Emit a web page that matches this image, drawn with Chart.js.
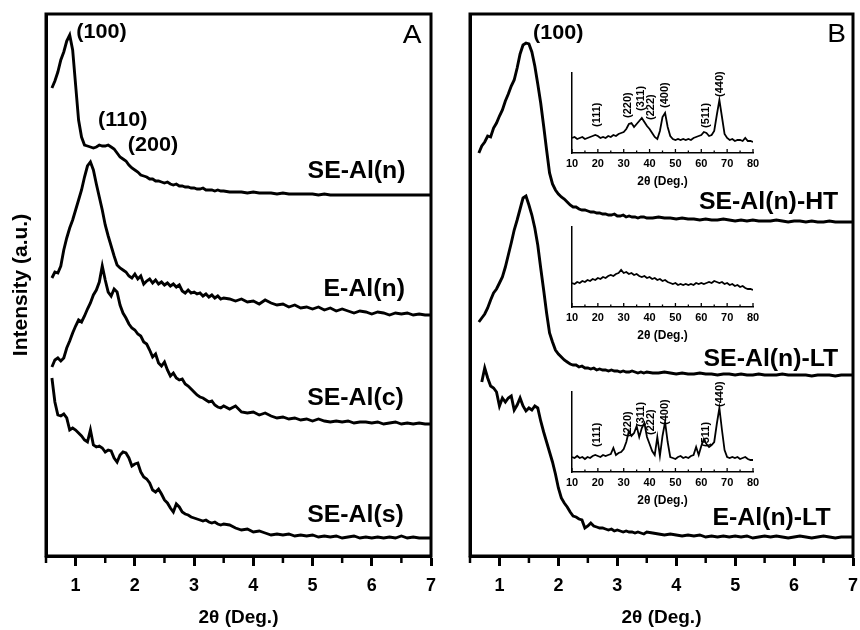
<!DOCTYPE html>
<html>
<head>
<meta charset="utf-8">
<script src="https://cdn.jsdelivr.net/npm/chart.js"></script>
<style>
  body { margin: 0; background: #fff; }
  #wrap { position: relative; width: 860px; height: 630px; overflow: hidden; }
  #wrap canvas { position: absolute; }
</style>
</head>
<body>
<div id="wrap">
  <canvas id="chartA" width="440" height="630" style="left:0;top:0"></canvas>
  <canvas id="chartB" width="420" height="630" style="left:440px;top:0"></canvas>
  <canvas id="inset1" width="240" height="132" style="left:542px;top:63px"></canvas>
  <canvas id="inset2" width="240" height="132" style="left:542px;top:217px"></canvas>
  <canvas id="inset3" width="240" height="132" style="left:542px;top:382px"></canvas>
</div>
<script>
// 2-theta grid of the low angle scans, panel A
const xA = [
  0.60, 0.65, 0.70, 0.75, 0.80, 0.85, 0.90, 0.95, 1.00, 1.05,
  1.10, 1.15, 1.20, 1.25, 1.30, 1.35, 1.40, 1.45, 1.50, 1.55,
  1.60, 1.65, 1.70, 1.75, 1.80, 1.85, 1.90, 1.95, 2.00, 2.05,
  2.10, 2.15, 2.20, 2.25, 2.30, 2.35, 2.40, 2.45, 2.50, 2.55,
  2.60, 2.65, 2.70, 2.75, 2.80, 2.85, 2.90, 2.95, 3.00, 3.05,
  3.10, 3.15, 3.20, 3.25, 3.30, 3.35, 3.40, 3.45, 3.50,
  3.6, 3.7, 3.8, 3.9, 4.0, 4.1, 4.2, 4.3, 4.4, 4.5,
  4.6, 4.7, 4.8, 4.9, 5.0, 5.1, 5.2, 5.3, 5.4, 5.5,
  5.6, 5.7, 5.8, 5.9, 6.0, 6.1, 6.2, 6.3, 6.4, 6.5,
  6.6, 6.7, 6.8, 6.9, 7.0
];

// intensities (a.u., stacked with offsets as in the figure)
const seAlN = [
  468, 475, 484, 496, 504, 515, 521, 506, 471, 436,
  419, 411, 410, 409, 408, 409, 411, 410, 410, 411,
  409, 407, 403, 399, 397, 395, 391, 388, 386, 384,
  381, 380, 379, 377, 377, 375, 375, 374, 373, 374,
  372, 371, 372, 370, 370, 369, 369, 368, 368, 367,
  367, 368, 366, 366, 366, 365, 366, 365, 365,
  364, 364, 364, 363, 364, 363, 363, 363, 362, 363,
  362, 362, 362, 362, 362, 361, 362, 361, 361, 361,
  361, 361, 361, 361, 361, 361, 361, 361, 361, 361,
  361, 361, 361, 361, 361
];
const eAlN = [
  278, 284, 283, 290, 306, 318, 328, 336, 346, 356,
  366, 379, 390, 394, 386, 372, 359, 346, 331, 320,
  310, 300, 291, 288, 286, 284, 280, 278, 282, 277,
  280, 272, 275, 277, 273, 276, 272, 274, 271, 273,
  270, 272, 269, 271, 265, 263, 266, 263, 264, 262,
  263, 260, 262, 259, 261, 258, 260, 257, 258,
  257, 255, 257, 254, 255, 252, 256, 253, 251, 252,
  249, 251, 248, 249, 247, 249, 246, 248, 245, 247,
  245, 243, 245, 244, 242, 244, 243, 241, 243, 242,
  243, 241, 242, 241, 241
];
const seAlC = [
  189, 196, 198, 195, 198, 208, 215, 223, 230, 236,
  234, 240, 247, 253, 261, 266, 274, 290, 276, 264,
  260, 267, 264, 251, 243, 238, 232, 228, 226, 222,
  220, 214, 212, 206, 199, 202, 193, 190, 194, 186,
  180, 183, 178, 176, 177, 172, 170, 167, 164, 161,
  159, 158, 156, 154, 155, 151, 149, 148, 150,
  147, 150, 144, 143, 144, 141, 143, 140, 138, 139,
  137, 138, 136, 137, 135, 137, 135, 134, 135, 134,
  135, 133, 134, 134, 133, 134, 132, 133, 134, 132,
  133, 132, 133, 132, 132
];
const seAlS = [
  178, 154, 141, 140, 142, 138, 126, 128, 126, 123,
  120, 116, 114, 126, 111, 109, 110, 108, 104, 106,
  105, 98, 94, 101, 104, 103, 98, 90, 92, 93,
  84, 79, 77, 73, 66, 64, 67, 62, 56, 53,
  48, 44, 52, 49, 44, 42, 41, 39, 38, 37,
  36, 35, 36, 34, 33, 34, 32, 31, 32,
  31, 28, 26, 27, 24, 25, 23, 21, 22, 21,
  22, 20, 21, 20, 21, 19, 20, 19, 20, 18,
  19, 20, 18, 19, 18, 19, 18, 19, 18, 20,
  18, 19, 18, 18, 18
];

// panel B grid
const xB = [
  0.65, 0.70, 0.75, 0.80, 0.85, 0.90, 0.95, 1.00, 1.05, 1.10,
  1.15, 1.20, 1.25, 1.30, 1.35, 1.40, 1.45, 1.50, 1.55, 1.60,
  1.65, 1.70, 1.75, 1.80, 1.85, 1.90, 1.95, 2.00, 2.05, 2.10,
  2.15, 2.20, 2.25, 2.30, 2.35, 2.40, 2.45, 2.50, 2.55, 2.60,
  2.65, 2.70, 2.75, 2.80, 2.85, 2.90, 2.95, 3.00, 3.05, 3.10,
  3.15, 3.20, 3.25, 3.30, 3.35, 3.40, 3.45, 3.50,
  3.6, 3.7, 3.8, 3.9, 4.0, 4.1, 4.2, 4.3, 4.4, 4.5,
  4.6, 4.7, 4.8, 4.9, 5.0, 5.1, 5.2, 5.3, 5.4, 5.5,
  5.6, 5.7, 5.8, 5.9, 6.0, 6.1, 6.2, 6.3, 6.4, 6.5,
  6.6, 6.7, 6.8, 6.9, 7.0
];
const seAlNHT = [
  403, 410, 414, 420, 419, 428, 433, 440, 446, 455,
  462, 470, 476, 488, 502, 511, 513, 512, 504, 490,
  472, 453, 430, 406, 383, 372, 366, 362, 359, 357,
  354, 351, 349, 349, 347, 346, 346, 345, 344, 344,
  343, 343, 342, 342, 341, 341, 342, 340, 340, 341,
  339, 340, 339, 339, 338, 339, 339, 338,
  338, 339, 338, 338, 337, 338, 337, 337, 336, 337,
  336, 336, 337, 336, 335, 336, 335, 336, 335, 335,
  335, 336, 335, 334, 335, 335, 334, 335, 334, 334,
  335, 334, 334, 334, 334
];
const seAlNLT = [
  234, 238, 242, 248, 256, 263, 267, 273, 279, 289,
  301, 313, 326, 336, 347, 358, 360, 351, 341, 328,
  311, 288, 266, 243, 223, 214, 206, 202, 199, 196,
  194, 192, 191, 191, 189, 190, 188, 188, 187, 188,
  186, 187, 186, 186, 185, 186, 185, 185, 184, 185,
  184, 184, 185, 184, 183, 184, 183, 184,
  183, 183, 184, 183, 182, 183, 182, 182, 183, 182,
  182, 181, 182, 182, 181, 182, 181, 181, 182, 181,
  181, 181, 182, 181, 181, 181, 181, 180, 181, 181,
  181, 180, 181, 181, 181
];
const eAlNLT = [
  null, 174, 188, 178, 170, 168, 164, 150, 158, 154,
  158, 160, 146, 151, 158, 150, 145, 148, 146, 150,
  148, 135, 124, 114, 104, 94, 82, 68, 58, 53,
  49, 44, 40, 39, 37, 36, 28, 30, 33, 30,
  29, 28, 28, 27, 26, 27, 25, 26, 25, 24,
  25, 24, 24, 23, 24, 23, 22, 24,
  23, 22, 21, 22, 21, 20, 21, 20, 21, 19,
  20, 19, 20, 19, 20, 19, 20, 18, 19, 20,
  19, 20, 19, 18, 19, 20, 19, 18, 19, 20,
  19, 18, 19, 19, 19
];

// wide angle insets, 2-theta 10..80
const xInset = [
  10, 11, 12, 13, 14, 15, 16, 17, 18, 19,
  20, 21, 22, 23, 24, 25, 26, 27, 28, 29,
  30, 31, 32, 33, 34, 35, 36, 37, 38, 39,
  40, 41, 42, 43, 44, 45, 46, 47, 48, 49,
  50, 51, 52, 53, 54, 55, 56, 57, 58, 59,
  60, 61, 62, 63, 64, 65, 66, 67, 68, 69,
  70, 71, 72, 73, 74, 75, 76, 77, 78, 79,
  80
];
const insetHT = [
  15, 16, 14, 15, 16, 14, 15, 16, 17, 18,
  17, 15, 16, 15, 17, 16, 18, 17, 19, 20,
  21, 24, 29, 30, 26, 29, 32, 35, 31, 27,
  24, 20, 16, 14, 22, 36, 40, 26, 17, 14,
  13, 14, 13, 14, 13, 14, 13, 15, 16, 17,
  18, 21, 20, 17, 18, 22, 38, 53, 36, 19,
  15, 13, 14, 12, 13, 13, 12, 15, 12, 12,
  11
];
const insetLT = [
  24, 23, 25, 24, 26, 25, 27, 26, 28, 27,
  29, 28, 30, 29, 31, 32, 31, 33, 34, 37,
  34, 35, 33, 34, 32, 33, 31, 30, 31, 29,
  30, 28, 29, 27, 28, 26, 27, 25, 24, 23,
  24, 22, 23, 22, 23, 22, 23, 22, 24, 23,
  24, 23, 24, 25, 24, 26, 25, 24, 25, 23,
  24, 22, 23, 21, 22, 20, 21, 19, 18, 18,
  17
];
const insetELT = [
  15, 14, 16, 14, 15, 13, 15, 14, 16, 17,
  16, 15, 17, 16, 17, 18, 24, 17, 19, 20,
  23, 30, 41, 36, 39, 46, 35, 44, 49, 35,
  28, 21, 17, 35, 16, 36, 50, 30, 15, 14,
  13, 15, 16, 14, 15, 14, 16, 17, 25, 17,
  26, 33, 28, 25, 27, 30, 48, 64, 42, 22,
  15, 14, 15, 14, 15, 13, 14, 15, 13, 12,
  12
];

// tick positions and label texts
const xTicksMain = [0.5, 1, 1.5, 2, 2.5, 3, 3.5, 4, 4.5, 5, 5.5, 6, 6.5, 7];
const xTicksInset = [10, 15, 20, 25, 30, 35, 40, 45, 50, 55, 60, 65, 70, 75, 80];
const namesA = ['SE-Al(n)', 'E-Al(n)', 'SE-Al(c)', 'SE-Al(s)'];
const namesB = ['SE-Al(n)-HT', 'SE-Al(n)-LT', 'E-Al(n)-LT'];
const hklMeso = ['(100)', '(110)', '(200)'];
const hklSpinel = ['(111)', '(220)', '(311)', '(222)', '(400)', '(511)', '(440)'];
const hklAngle = [19.5, 31.5, 36.6, 40.4, 45.8, 61.8, 67.4];

const FONT = "'Liberation Sans', Arial, Helvetica, sans-serif";
const NAME_FONT = 'bold 23px ' + FONT;
const HKL_FONT = 'bold 20px ' + FONT;
const PANEL_FONT = '26px ' + FONT;

function points(xs, ys) {
    return xs.map((x, i) => ({ x: x, y: ys[i] }));
}

function curve(xs, ys, width) {
    return {
        data: points(xs, ys),
        borderColor: '#000',
        borderWidth: width,
        pointRadius: 0,
        tension: 0,
        fill: false
    };
}

// free text placed in data units through the chart scales
function notes(items) {
    return {
        id: 'notes',
        afterDatasetsDraw(chart) {
            const ctx = chart.ctx;
            const x = chart.scales.x;
            const y = chart.scales.y;
            ctx.save();
            ctx.fillStyle = '#000';
            ctx.textBaseline = 'middle';
            items.forEach(n => {
                ctx.save();
                ctx.font = n.font;
                ctx.textAlign = n.align || 'left';
                ctx.translate(x.getPixelForValue(n.x), y.getPixelForValue(n.y));
                if (n.rotate) ctx.rotate(-Math.PI / 2);
                ctx.scale(n.stretch || 1, 1);
                ctx.fillText(n.text, 0, 0);
                ctx.restore();
            });
            ctx.restore();
        }
    };
}

// top/right frame and short minor ticks of the main panels
const frame = {
    id: 'frame',
    afterDraw(chart) {
        const { ctx, chartArea: a, scales: { x } } = chart;
        ctx.save();
        ctx.strokeStyle = '#000';
        ctx.lineWidth = 2.5;
        x.ticks.forEach(t => {
            if (Number.isInteger(t.value)) return;
            const px = x.getPixelForValue(t.value);
            ctx.beginPath();
            ctx.moveTo(px, a.bottom);
            ctx.lineTo(px, a.bottom + 7);
            ctx.stroke();
        });
        ctx.lineWidth = 3;
        ctx.strokeRect(a.left, a.top, a.right - a.left, a.bottom - a.top);
        ctx.restore();
    }
};

// inward ticks of the insets
const innerTicks = {
    id: 'innerTicks',
    afterDraw(chart) {
        const { ctx, chartArea: a, scales: { x } } = chart;
        ctx.save();
        ctx.strokeStyle = '#000';
        ctx.lineWidth = 1.3;
        x.ticks.forEach(t => {
            const px = x.getPixelForValue(t.value);
            const len = t.value % 10 === 0 ? 4 : 2.5;
            ctx.beginPath();
            ctx.moveTo(px, a.bottom);
            ctx.lineTo(px, a.bottom - len);
            ctx.stroke();
        });
        ctx.restore();
    }
};

function mainOptions(yWidth, padRight, yTitle) {
    return {
        responsive: false,
        animation: false,
        devicePixelRatio: 1,
        events: [],
        layout: { padding: { top: 14, right: padRight, left: 0, bottom: 0 } },
        plugins: { legend: { display: false }, tooltip: { enabled: false } },
        scales: {
            x: {
                type: 'linear',
                min: 0.5,
                max: 7,
                afterBuildTicks: s => { s.ticks = xTicksMain.map(v => ({ value: v })); },
                afterFit: s => { s.height = 74; },
                ticks: {
                    autoSkip: false,
                    maxRotation: 0,
                    padding: 0,
                    color: '#000',
                    font: { family: FONT, size: 18, weight: 'bold', lineHeight: 2.2 },
                    callback: v => Number.isInteger(v) ? String(v) : ''
                },
                grid: {
                    drawOnChartArea: false,
                    tickLength: 10,
                    tickWidth: 3,
                    tickColor: c => (c.tick && Number.isInteger(c.tick.value)) ? '#000' : 'rgba(0,0,0,0)'
                },
                border: { color: '#000', width: 3 },
                title: {
                    display: true,
                    text: '2θ (Deg.)',
                    color: '#000',
                    padding: { top: 0, bottom: 1 },
                    font: { family: FONT, size: 19, weight: 'bold' }
                }
            },
            y: {
                min: 0,
                max: 542,
                afterFit: s => { s.width = yWidth; },
                ticks: { display: false },
                grid: { display: false, drawTicks: false },
                border: { color: '#000', width: 3 },
                title: {
                    display: !!yTitle,
                    text: yTitle || '',
                    color: '#000',
                    padding: { top: 9, bottom: 0 },
                    font: { family: FONT, size: 21, weight: 'bold' }
                }
            }
        }
    };
}

function insetOptions() {
    return {
        responsive: false,
        animation: false,
        devicePixelRatio: 1,
        events: [],
        layout: { padding: { top: 10, right: 29, left: 0, bottom: 0 } },
        plugins: { legend: { display: false }, tooltip: { enabled: false } },
        scales: {
            x: {
                type: 'linear',
                min: 10,
                max: 80,
                afterBuildTicks: s => { s.ticks = xTicksInset.map(v => ({ value: v })); },
                afterFit: s => { s.height = 42; },
                ticks: {
                    autoSkip: false,
                    maxRotation: 0,
                    padding: 4,
                    color: '#000',
                    font: { family: FONT, size: 11, weight: 'bold' },
                    callback: v => v % 10 === 0 ? String(v) : ''
                },
                grid: { display: false, drawTicks: false },
                border: { color: '#000', width: 1.5 },
                title: {
                    display: true,
                    text: '2θ (Deg.)',
                    color: '#000',
                    padding: { top: 0, bottom: 6 },
                    font: { family: FONT, size: 12, weight: 'bold' }
                }
            },
            y: {
                min: 0,
                max: 80,
                afterFit: s => { s.width = 30; },
                ticks: { display: false },
                grid: { display: false, drawTicks: false },
                border: { color: '#000', width: 1.5 }
            }
        }
    };
}

function spinelNotes(heights) {
    return hklSpinel.map((t, i) => ({
        text: t, x: hklAngle[i], y: heights[i], font: 'bold 11px ' + FONT, rotate: true
    }));
}

new Chart(document.getElementById('chartA'), {
    type: 'line',
    data: {
        datasets: [
            curve(xA, seAlN, 2.9),
            curve(xA, eAlN, 2.9),
            curve(xA, seAlC, 2.9),
            curve(xA, seAlS, 2.9)
        ]
    },
    options: mainOptions(46, 9, 'Intensity (a.u.)'),
    plugins: [frame, notes([
        { text: hklMeso[0], x: 1.01, y: 524, font: HKL_FONT, stretch: 1.08 },
        { text: hklMeso[1], x: 1.38, y: 436, font: HKL_FONT, stretch: 1.08 },
        { text: hklMeso[2], x: 1.88, y: 411, font: HKL_FONT, stretch: 1.08 },
        { text: 'A', x: 6.84, y: 520, font: PANEL_FONT, align: 'right', stretch: 1.08 },
        { text: namesA[0], x: 6.57, y: 384, font: NAME_FONT, align: 'right', stretch: 1.08 },
        { text: namesA[1], x: 6.56, y: 266, font: NAME_FONT, align: 'right', stretch: 1.08 },
        { text: namesA[2], x: 6.54, y: 157, font: NAME_FONT, align: 'right', stretch: 1.08 },
        { text: namesA[3], x: 6.54, y: 40, font: NAME_FONT, align: 'right', stretch: 1.08 }
    ])]
});

new Chart(document.getElementById('chartB'), {
    type: 'line',
    data: {
        datasets: [
            curve(xB, seAlNHT, 2.9),
            curve(xB, seAlNLT, 2.9),
            curve(xB, eAlNLT, 2.9)
        ]
    },
    options: mainOptions(30, 7, ''),
    plugins: [frame, notes([
        { text: hklMeso[0], x: 1.57, y: 523, font: HKL_FONT, stretch: 1.08 },
        { text: 'B', x: 6.88, y: 521, font: PANEL_FONT, align: 'right', stretch: 1.08 },
        { text: namesB[0], x: 6.75, y: 353, font: NAME_FONT, align: 'right', stretch: 1.08 },
        { text: namesB[1], x: 6.75, y: 196, font: NAME_FONT, align: 'right', stretch: 1.08 },
        { text: namesB[2], x: 6.62, y: 37, font: NAME_FONT, align: 'right', stretch: 1.08 }
    ])]
});

new Chart(document.getElementById('inset1'), {
    type: 'line',
    data: { datasets: [curve(xInset, insetHT, 1.8)] },
    options: insetOptions(),
    plugins: [innerTicks, notes(spinelNotes([26, 35, 42, 33, 45, 25, 56]))]
});

new Chart(document.getElementById('inset2'), {
    type: 'line',
    data: { datasets: [curve(xInset, insetLT, 1.8)] },
    options: insetOptions(),
    plugins: [innerTicks]
});

new Chart(document.getElementById('inset3'), {
    type: 'line',
    data: { datasets: [curve(xInset, insetELT, 1.8)] },
    options: insetOptions(),
    plugins: [innerTicks, notes(spinelNotes([25, 35, 45, 37, 47, 25, 65]))]
});
</script>
</body>
</html>
